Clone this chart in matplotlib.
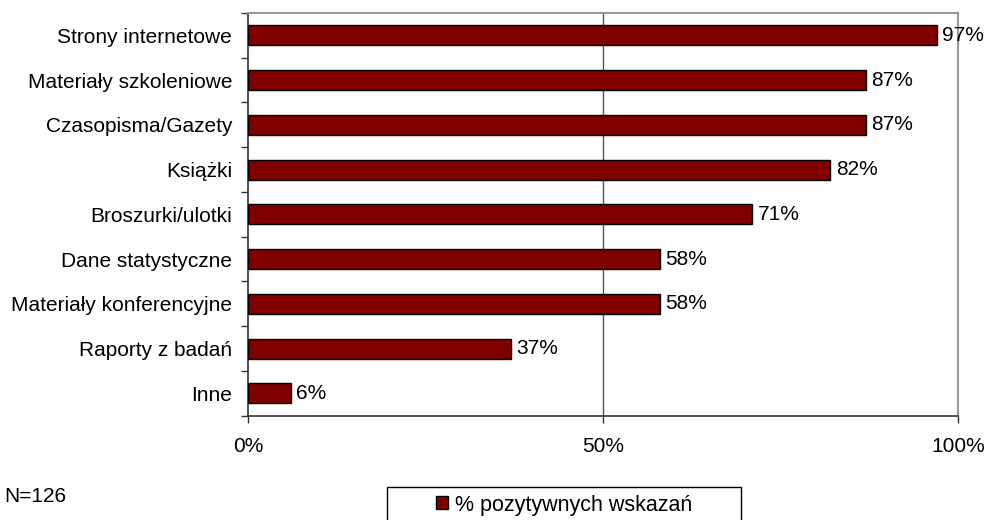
import numpy as np
import matplotlib
matplotlib.use('Agg')
import matplotlib.pyplot as plt
from matplotlib.patches import Patch, Rectangle

kategorie = ['Strony internetowe', 'Materiały szkoleniowe', 'Czasopisma/Gazety',
             'Książki', 'Broszurki/ulotki', 'Dane statystyczne',
             'Materiały konferencyjne', 'Raporty z badań', 'Inne']
wartosci = [97, 87, 87, 82, 71, 58, 58, 37, 6]
xticki = [0, 50, 100]
xetykiety = ['0%', '50%', '100%']

plt.rcParams['font.family'] = ['Liberation Sans', 'DejaVu Sans']
plt.rcParams['font.size'] = 15

fig = plt.figure(figsize=(9.85, 5.2), dpi=100)
ax = fig.add_axes([248/985, 1-415.7/520, 710/985, 402.7/520])

y = np.arange(len(kategorie))
ax.barh(y, wartosci, height=0.45, color='#800000', edgecolor='black', linewidth=1, zorder=3)
for yi, v in zip(y, wartosci):
    ax.annotate(f'{v}%', (v, yi), xytext=(4, 0), textcoords='offset points',
                va='center', ha='left', fontsize=15, zorder=4, annotation_clip=False)

ax.set_xlim(0, 100)
ax.set_ylim(len(kategorie) - 0.5, -0.5)
ax.axvline(50, color='#555555', linewidth=1, zorder=1)

ax.set_yticks(y)
ax.set_yticklabels(kategorie)
ax.tick_params(axis='y', which='major', length=0, pad=11.5)
ax.set_yticks(np.arange(-0.5, len(kategorie)), minor=True)
ax.tick_params(axis='y', which='minor', length=5, width=1, color='#333333', direction='out')

ax.set_xticks(xticki)
ax.set_xticklabels(xetykiety)
ax.tick_params(axis='x', length=5, width=1, color='#333333', direction='out', pad=10.5)

for s in ['top', 'right']:
    ax.spines[s].set_color('#999999')
    ax.spines[s].set_linewidth(1.5)
for s in ['left', 'bottom']:
    ax.spines[s].set_color('#333333')
    ax.spines[s].set_linewidth(1.2)

fig.text(4/985, 1-496/520, 'N=126', fontsize=15, va='center', ha='left')

# ramka legendy
fig.patches.append(Rectangle((387/985, -0.05), (741-387)/985, 0.05 + (520-487)/520,
                             transform=fig.transFigure, facecolor='white',
                             edgecolor='black', linewidth=1))
leg = fig.legend(handles=[Patch(facecolor='#800000', edgecolor='black', label='% pozytywnych wskazań')],
                 loc='center', bbox_to_anchor=(564/985, 1-505/520),
                 frameon=False, fontsize=15.5,
                 handlelength=0.55, handleheight=0.55, handletextpad=0.35,
                 borderpad=0, borderaxespad=0)

fig.savefig('out.png', dpi=100)
